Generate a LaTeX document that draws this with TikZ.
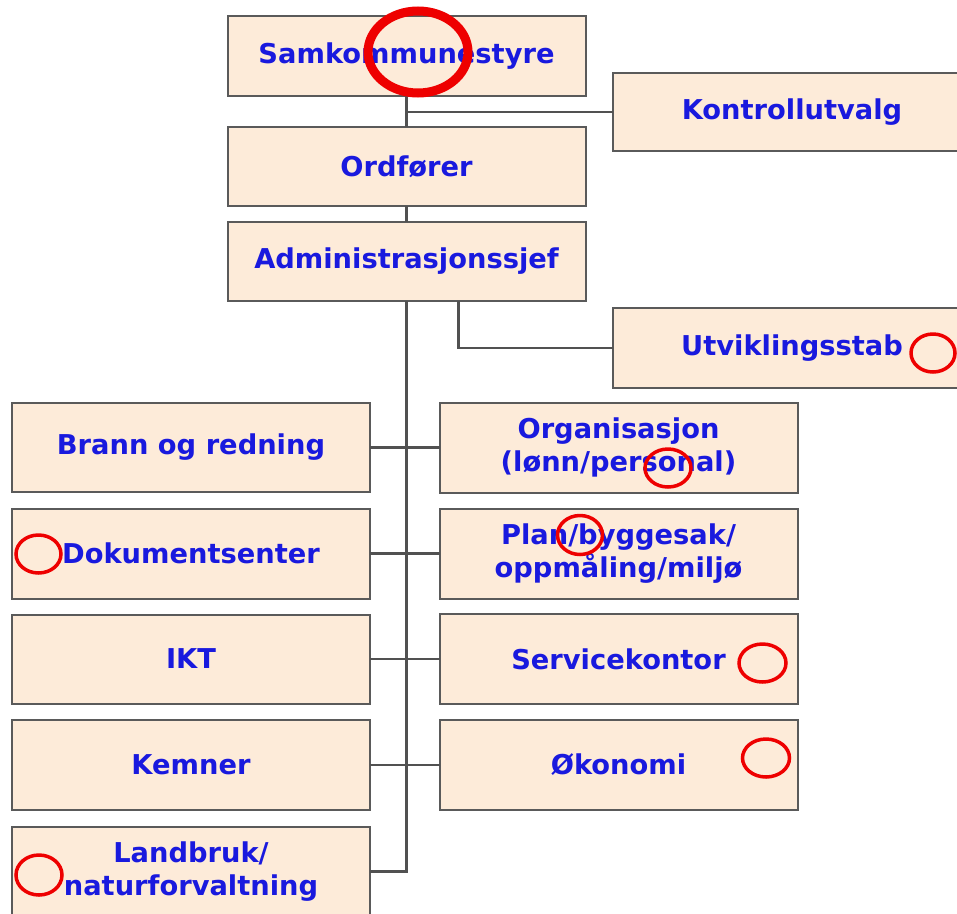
\documentclass[tikz,border=0pt]{standalone}
\usepackage{fontspec}
\setmainfont{DejaVu Sans}
\usetikzlibrary{calc}
\definecolor{boxfill}{HTML}{FDEBD9}
\definecolor{boxline}{HTML}{5A5A5A}
\definecolor{txtblue}{RGB}{25,25,222}
\definecolor{markred}{RGB}{238,0,0}
\begin{document}
\begin{tikzpicture}[x=1pt,y=-1pt,
  orgbox/.style={draw=boxline,line width=2pt,fill=boxfill,minimum width=358pt,
    inner sep=0pt,outer sep=0pt,align=center,text=txtblue,
    font=\fontsize{27.3}{33}\selectfont\bfseries},
  link/.style={draw=boxline!90!black,line width=2.2pt},
  redring/.style={draw=markred,line width=3.5pt},
  bigring/.style={draw=markred,line width=9pt}]
\useasboundingbox (0,0) rectangle (957,913);
\clip (0,0) rectangle (957,913);
\fill[white] (0,0) rectangle (957,913);
% nodes
\node[orgbox,minimum height=80pt] (samk) at (406.5,56) {Samkommunestyre};
\node[orgbox,minimum height=78pt] (kontroll) at (792,112) {Kontrollutvalg};
\node[orgbox,minimum height=79pt] (ordf) at (406.5,166.5) {Ordfører};
\node[orgbox,minimum height=79pt] (admin) at (406.5,261.5) {Administrasjonssjef};
\node[orgbox,minimum height=80pt] (utv) at (792,348) {Utviklingsstab};
\node[orgbox,minimum height=89pt] (brann) at (191,447.5) {Brann og redning};
\node[orgbox,minimum height=90pt] (dok) at (191,553.5) {Dokumentsenter};
\node[orgbox,minimum height=89pt] (ikt) at (191,659) {IKT};
\node[orgbox,minimum height=90pt] (kem) at (191,765) {Kemner};
\node[orgbox,minimum height=89pt] (land) at (191,871.5) {Landbruk/\\naturforvaltning};
\node[orgbox,minimum height=90pt] (org) at (618.5,447.5) {Organisasjon\\(lønn/personal)};
\node[orgbox,minimum height=90pt] (plan) at (618.5,553.5) {Plan/byggesak/\\oppmåling/miljø};
\node[orgbox,minimum height=90pt] (serv) at (618.5,659) {Servicekontor};
\node[orgbox,minimum height=90pt] (oko) at (618.5,765) {Økonomi};
% connectors
\draw[link] (samk.south) -- (ordf.north);
\draw[link] (ordf.south) -- (admin.north);
\draw[link] (samk.south |- kontroll.west) -- (kontroll.west);
\coordinate (adm2) at ($(admin.south)+(52,0)$);
\draw[link] (adm2) |- (utv.west);
\draw[link] (admin.south) |- (land.east);
\draw[link] (brann.east) -- (org.west);
\draw[link] (dok.east) -- (plan.west);
\draw[link] (ikt.east) -- (serv.west);
\draw[link] (kem.east) -- (oko.west);
% red marks
\draw[bigring] (418,52) ellipse [x radius=50, y radius=41];
\draw[redring] (933,353) ellipse [x radius=22, y radius=19];
\draw[redring] (668,468) ellipse [x radius=23, y radius=19];
\draw[redring] (580,535) ellipse [x radius=22.5, y radius=19.5];
\draw[redring] (762.5,663) ellipse [x radius=23.5, y radius=19];
\draw[redring] (766,758) ellipse [x radius=23.5, y radius=19];
\draw[redring] (38.5,554) ellipse [x radius=22.5, y radius=19];
\draw[redring] (39,875) ellipse [x radius=23, y radius=20];
\end{tikzpicture}
\end{document}
